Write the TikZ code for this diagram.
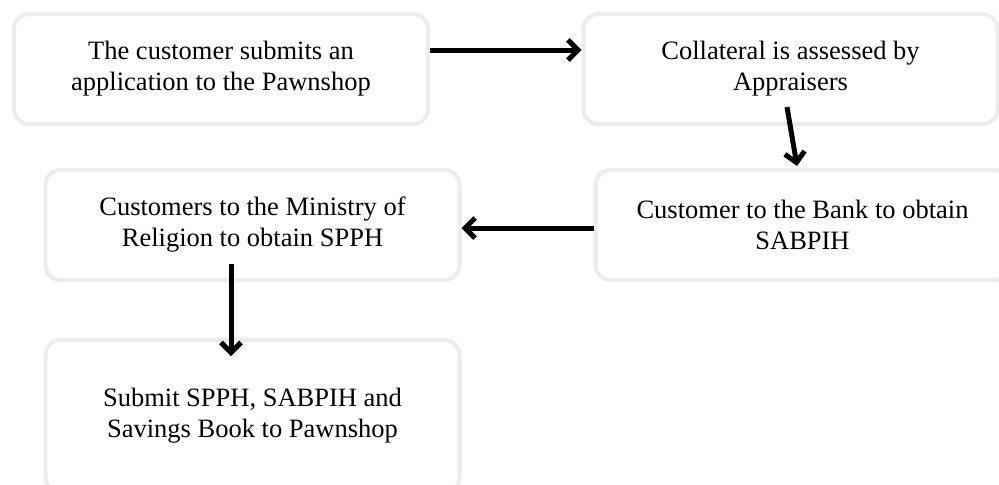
\documentclass[tikz,border=0pt]{standalone}
\usepackage{fontspec}
\setmainfont{Liberation Serif}
\usetikzlibrary{arrows.meta,positioning}

\begin{document}
\begin{tikzpicture}[x=0.5pt,y=-0.5pt,
    stepbox/.style={draw=gray!15,line width=2pt,rounded corners=7.5pt,align=center,
      minimum width=207pt,minimum height=55pt,font=\fontsize{13.25pt}{15.5pt}\selectfont},
    flow/.style={line width=2.5pt,-{Straight Barb[length=5pt,width=10pt,line width=2.5pt]}}]
  \useasboundingbox (0,0) rectangle (999,484);
  \clip (0,0) rectangle (999,484);

  % first row
  \node[stepbox] (apply) at (221,69) {The customer submits an\\application to the Pawnshop};
  \node[stepbox] (assess) at (790.5,69) {Collateral is assessed by\\Appraisers};

  % second row
  \node[stepbox] (bank) at (802.5,225) {Customer to the Bank to obtain\\SABPIH};
  \node[stepbox] (ministry) at (252.5,225) {Customers to the Ministry of\\Religion to obtain SPPH};

  % last step
  \node[stepbox,minimum height=76pt] (submit) at (252.5,416) {Submit SPPH, SABPIH and\\Savings Book to Pawnshop};

  \draw[flow] ([yshift=9.5pt]apply.east) -- ([yshift=9.5pt]assess.west);
  \draw[flow] ([xshift=-1.75pt,yshift=9.5pt]assess.south) -- ([xshift=-2.75pt,yshift=1pt]bank.north);
  \draw[flow] ([yshift=-1.5pt]bank.west) -- ([yshift=-1.5pt]ministry.east);
  \draw[flow] ([xshift=-10.75pt,yshift=9pt]ministry.south) -- ([xshift=-10.75pt,yshift=-9pt]submit.north);

\end{tikzpicture}
\end{document}
